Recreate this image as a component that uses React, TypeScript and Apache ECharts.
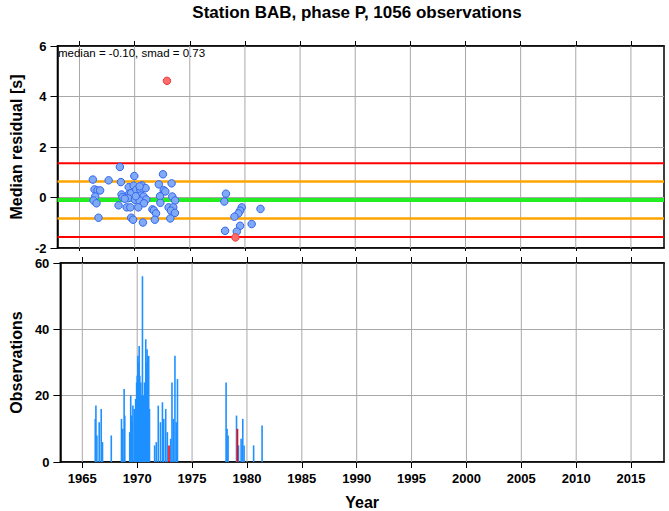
import React, { useEffect, useRef } from "react";
import * as echarts from "echarts";

const TITLE = "Station BAB, phase P, 1056 observations";
const STATS_TEXT = "median = -0.10, smad = 0.73";
const MEDIAN = -0.1;
const SMAD = 0.73;
const X_MIN = 1963.0;
const X_MAX = 2018.0;

// Median residuals (blue points)
const pointYears = [
  1966.21, 1967.64, 1968.66, 1968.75, 1969.97, 1972.57, 1966.36, 1966.63, 1966.87, 1966.42,
  1966.27, 1966.54, 1966.72, 1968.54, 1968.81, 1968.9, 1969.46, 1969.91, 1969.5, 1969.68,
  1969.41, 1969.28, 1969.61, 1969.68, 1969.86, 1970.03, 1970.24, 1970.15, 1970.51, 1970.66,
  1970.99, 1970.6, 1970.81, 1970.45, 1971.05, 1970.84, 1970.33, 1970.75, 1972.19, 1972.63,
  1972.78, 1972.3, 1972.33, 1971.61, 1971.74, 1971.94, 1971.83, 1973.35, 1973.41, 1973.67,
  1973.08, 1973.5, 1973.29, 1973.65, 1973.23, 1970.1, 1969.1, 1970.45,
  1978.28, 1978.13, 1979.71, 1979.56, 1979.41, 1979.05, 1981.41, 1980.61, 1979.56, 1979.26, 1978.2,
];
const pointResiduals = [
  0.71, 0.68, 1.21, 0.61, 0.85, 0.92, 0.32, 0.28, 0.28, 0.04,
  -0.12, -0.23, -0.8, -0.31, 0.12, 0.01, 0.41, 0.47, 0.15, 0.17,
  -0.03, -0.39, -0.39, -0.8, -0.88, -0.09, 0.12, 0.31, 0.31, 0.48,
  0.37, 0.08, 0.04, -0.12, -0.08, -0.23, -0.39, -0.99, 0.52, 0.29,
  0.24, 0.05, -0.21, -0.47, -0.51, -0.63, -0.88, 0.56, 0.04, -0.12,
  -0.39, -0.39, -0.52, -0.61, -0.83, 0.05, -0.05, 0.44,
  0.15, -0.16, -0.39, -0.52, -0.63, -0.76, -0.45, -1.05, -1.12, -1.35, -1.32,
];
// Outliers (red points)
const outlierYears = [1972.93, 1979.14];
const outlierResiduals = [4.62, -1.58];

// Observation counts (blue bars)
const barYears = [
  1966.18, 1966.24, 1966.33, 1966.54, 1966.72, 1966.84, 1967.64,
  1968.57, 1968.69, 1968.81, 1968.87,
  1969.32, 1969.41, 1969.5, 1969.55, 1969.61, 1969.73, 1969.86, 1969.95, 1970.0, 1970.06,
  1970.12, 1970.18, 1970.24, 1970.33, 1970.4, 1970.48, 1970.54, 1970.6, 1970.67, 1970.78,
  1970.84, 1970.9, 1970.96, 1971.05, 1971.12,
  1971.59, 1971.74, 1971.92, 1972.12, 1972.3, 1972.42, 1972.6, 1972.75, 1973.05, 1973.17,
  1973.29, 1973.44, 1973.56, 1973.67,
  1978.1, 1978.19, 1978.28, 1979.05, 1979.23, 1979.47, 1979.62, 1979.74, 1980.61, 1981.38,
];
const barCounts = [
  13, 17, 8, 12, 16, 6, 8,
  13, 10, 22, 14,
  9, 20, 14, 12, 17, 16, 19, 24, 26, 32,
  30, 35, 26, 24, 20, 56, 20, 20, 24, 37,
  30, 34, 32, 32, 16,
  5, 6, 17, 12, 18, 13, 16, 9, 7, 24,
  13, 32, 12, 25,
  24, 10, 8, 14, 5, 7, 13, 5, 5, 11,
];
// Observation counts of outlier epochs (red bars)
const outlierBarYears = [1972.9, 1979.14];
const outlierBarCounts = [5, 10];

// Year ticks / grid lines
const yearTicks = [1965, 1970, 1975, 1980, 1985, 1990, 1995, 2000, 2005, 2010, 2015];

const FONT = "Liberation Sans, Arial, Helvetica, sans-serif";

export default function App() {
  const ref = useRef<HTMLDivElement>(null);

  useEffect(() => {
    if (!ref.current) return;
    const chart = echarts.init(ref.current, null, { renderer: "svg" });

    const gridLine = { show: true, lineStyle: { color: "#a8a8a8", width: 1 } };
    const axisLine = { show: true, onZero: false, lineStyle: { color: "#000", width: 1.5 } };
    const tickLabel = { fontFamily: FONT, fontWeight: "bold" as const, fontSize: 13, color: "#000" };
    const nameStyle = { fontFamily: FONT, fontWeight: "bold" as const, fontSize: 16, color: "#000" };

    const xBase = (gridIndex: number, position: "top" | "bottom", withLabels: boolean, tickLen: number) => ({
      type: "value" as const,
      gridIndex,
      position,
      min: X_MIN,
      max: X_MAX,
      axisLine,
      axisTick: { show: true, inside: false, length: tickLen, customValues: yearTicks, lineStyle: { color: "#000", width: 1 } },
      splitLine: { show: false },
      axisLabel: withLabels
        ? { ...tickLabel, margin: 10, customValues: yearTicks, formatter: (v: number) => String(Math.round(v)) }
        : { show: false },
    });

    const hLine = (v: number, color: string, width: number) => ({
      type: "line" as const,
      xAxisIndex: 0,
      yAxisIndex: 0,
      data: [
        [X_MIN, v],
        [X_MAX, v],
      ],
      showSymbol: false,
      symbol: "none",
      silent: true,
      z: 2,
      lineStyle: { color, width },
    });

    const vGrid = (xAxisIndex: number, yAxisIndex: number, yLo: number, yHi: number) => ({
      type: "custom" as const,
      xAxisIndex,
      yAxisIndex,
      silent: true,
      z: 1,
      data: yearTicks.map((y) => [y]),
      renderItem: (params: any, api: any) => {
        const v = api.value(0);
        const p0 = api.coord([v, yLo]);
        const p1 = api.coord([v, yHi]);
        return {
          type: "line",
          shape: { x1: p0[0], y1: p0[1], x2: p1[0], y2: p1[1] },
          style: { stroke: "#a8a8a8", lineWidth: 1 },
        };
      },
    });

    const bars = (years: number[], counts: number[], color: string, z: number) => ({
      type: "custom" as const,
      xAxisIndex: 2,
      yAxisIndex: 1,
      silent: true,
      z,
      data: years.map((y, i) => [y, counts[i]]),
      renderItem: (params: any, api: any) => {
        const top = api.coord([api.value(0), api.value(1)]);
        const base = api.coord([api.value(0), 0]);
        const w = 1.6;
        return {
          type: "rect",
          shape: { x: top[0] - w / 2, y: top[1], width: w, height: base[1] - top[1] },
          style: { fill: color },
        };
      },
    });

    chart.setOption({
      animation: false,
      backgroundColor: "#fff",
      grid: [
        { left: 51, top: 46, width: 613, height: 202, show: true, borderColor: "#000", borderWidth: 1.5, backgroundColor: "transparent" },
        { left: 51, top: 263, width: 613, height: 200, show: true, borderColor: "#000", borderWidth: 1.5, backgroundColor: "transparent" },
      ],
      graphic: [
        {
          type: "text",
          x: 357,
          y: 12,
          style: { text: TITLE, fontFamily: FONT, fontWeight: "bold", fontSize: 17, fill: "#000", textAlign: "center", textVerticalAlign: "middle" },
        },
        {
          type: "text",
          x: 58,
          y: 53,
          z: 10,
          style: { text: STATS_TEXT, fontFamily: FONT, fontSize: 11.5, fill: "#000", textAlign: "left", textVerticalAlign: "middle" },
        },
      ],
      xAxis: [
        xBase(0, "bottom", false, 3),
        xBase(0, "top", false, 5),
        {
          ...xBase(1, "bottom", true, 6),
          name: "Year",
          nameLocation: "middle",
          nameGap: 32,
          nameTextStyle: nameStyle,
        },
        xBase(1, "top", false, 6),
      ],
      yAxis: [
        {
          type: "value",
          gridIndex: 0,
          min: -2,
          max: 6,
          interval: 2,
          axisLine,
          axisTick: { show: true, inside: false, length: 7, lineStyle: { color: "#000", width: 1 } },
          splitLine: gridLine,
          axisLabel: { ...tickLabel, margin: 11 },
          name: "Median residual [s]",
          nameLocation: "middle",
          nameGap: 30,
          nameTextStyle: nameStyle,
        },
        {
          type: "value",
          gridIndex: 1,
          min: 0,
          max: 60,
          interval: 20,
          axisLine,
          axisTick: { show: true, inside: false, length: 7, lineStyle: { color: "#000", width: 1 } },
          splitLine: gridLine,
          axisLabel: { ...tickLabel, margin: 11 },
          name: "Observations",
          nameLocation: "middle",
          nameGap: 30,
          nameTextStyle: nameStyle,
        },
      ],
      series: [
        vGrid(0, 0, -2, 6),
        vGrid(2, 1, 0, 60),
        hLine(MEDIAN + 2 * SMAD, "#ff0000", 2),
        hLine(MEDIAN - 2 * SMAD, "#ff0000", 2),
        hLine(MEDIAN + SMAD, "#ffa500", 2.5),
        hLine(MEDIAN - SMAD, "#ffa500", 2.5),
        hLine(MEDIAN, "#22ee22", 4),
        {
          type: "scatter",
          xAxisIndex: 0,
          yAxisIndex: 0,
          z: 5,
          symbol: "circle",
          symbolSize: 7.5,
          itemStyle: { color: "#80a9f6", borderColor: "#3366ee", borderWidth: 1, opacity: 1 },
          data: pointYears.map((y, i) => [y, pointResiduals[i]]),
        },
        {
          type: "scatter",
          xAxisIndex: 0,
          yAxisIndex: 0,
          z: 5,
          symbol: "circle",
          symbolSize: 7.5,
          itemStyle: { color: "#ff6a6a", borderColor: "#e84040", borderWidth: 1, opacity: 1 },
          data: outlierYears.map((y, i) => [y, outlierResiduals[i]]),
        },
        bars(barYears, barCounts, "#1e90ff", 3),
        bars(outlierBarYears, outlierBarCounts, "#ff0000", 4),
      ],
    });

    return () => chart.dispose();
  }, []);

  return <div ref={ref} style={{ width: 669, height: 511, position: "absolute", left: 0, top: 0 }} />;
}
